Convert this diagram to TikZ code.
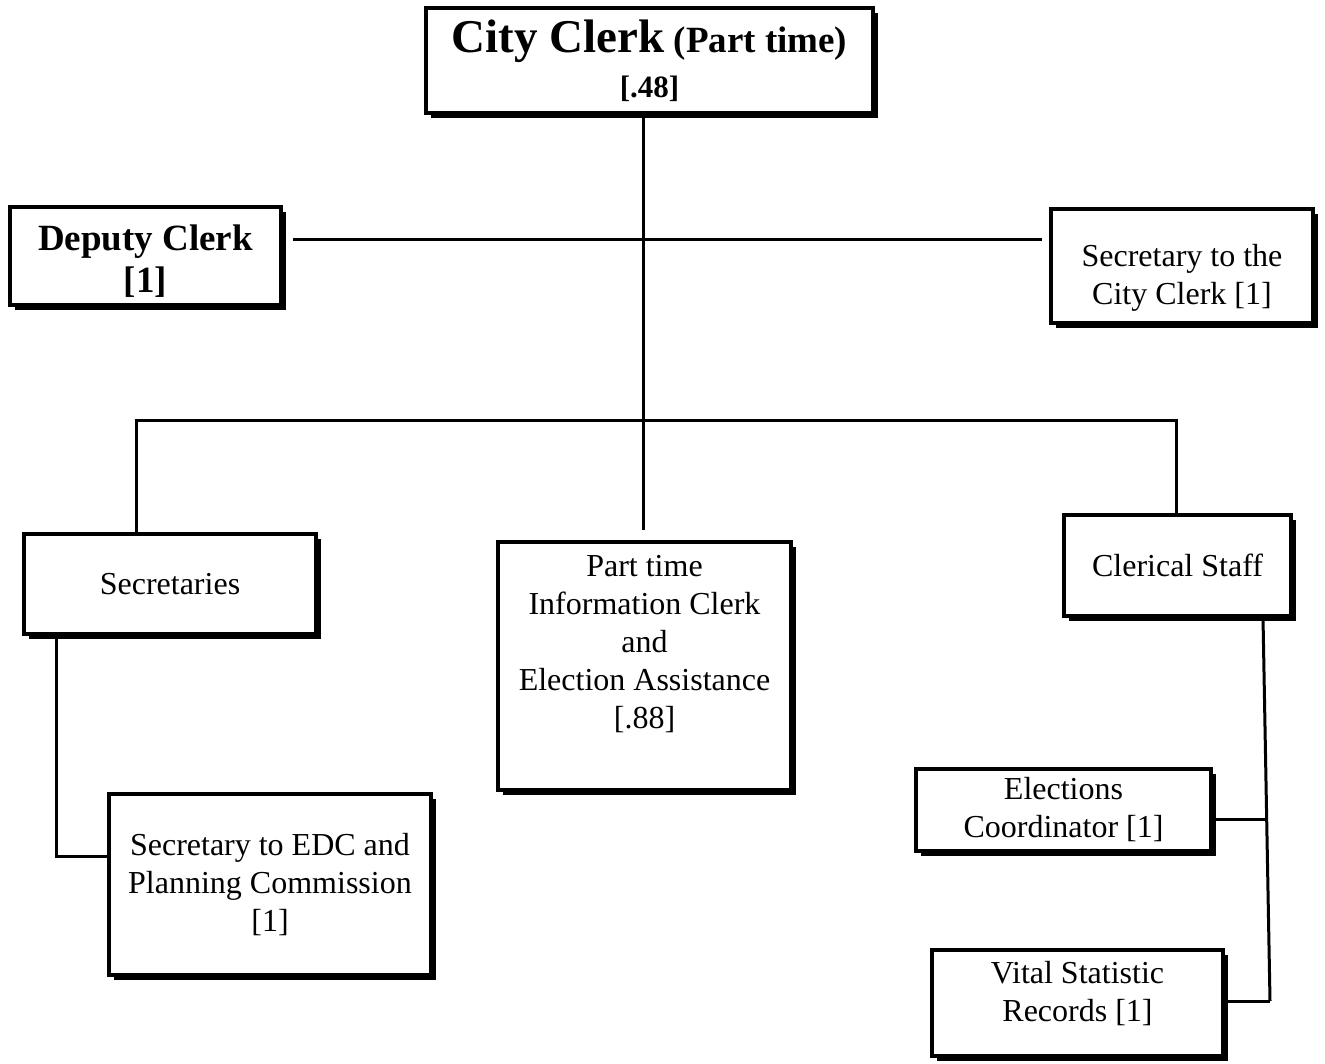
\documentclass[tikz,border=0pt]{standalone}
\usepackage{fontspec}
\setmainfont{Liberation Serif}
\usetikzlibrary{shadows}

\begin{document}
\begin{tikzpicture}[x=1pt, y=-1pt,
    box/.style={draw=black, line width=3.5pt, fill=white, align=center, inner sep=0pt,
        drop shadow={shadow xshift=5pt, shadow yshift=-5pt, fill=black, opacity=1},
        font=\fontsize{32}{38}\selectfont},
    link/.style={line width=3pt}]
            \useasboundingbox (0,0) rectangle (1325,1064);

            \node[box, minimum width=447pt, minimum height=105pt, font=\fontsize{37}{45}\selectfont\bfseries] (clerk) at (649.5,60.5) {{\fontsize{47}{45}\selectfont City Clerk} (Part time)\\{}{\fontsize{31}{45}\selectfont [.48]}};
            \node[box, minimum width=271pt, minimum height=98pt, font=\fontsize{37}{42}\selectfont\bfseries] (deputy) at (145.5,256) {\rule{0pt}{35pt}Deputy Clerk\\{}[1]};
            \node[box, minimum width=262pt, minimum height=114pt] (cityclerksec) at (1182,266) {\rule{0pt}{46pt}Secretary to the\\City Clerk [1]};
            \node[box, minimum width=292pt, minimum height=100pt] (secretaries) at (170,584) {Secretaries};
            \node[box, minimum width=293pt, minimum height=248pt] (infoclerk) at (644.5,666) {Part time\\Information Clerk\\and\\Election Assistance\\{}[.88]\\[10pt]\mbox{}};
            \node[box, minimum width=227pt, minimum height=101pt] (clerical) at (1177.5,565.5) {Clerical Staff};
            \node[box, minimum width=322pt, minimum height=181pt] (edcsec) at (270,884.5) {Secretary to EDC and\\Planning Commission\\{}[1]};
            \node[box, minimum width=295pt, minimum height=82pt] (elections) at (1063.5,810) {Elections\\Coordinator [1]};
            \node[box, minimum width=291pt, minimum height=106pt] (vital) at (1077.5,1003) {Vital Statistic\\Records [1]\\[-14pt]\mbox{}};

            \coordinate (trunkend) at (643,530);
            \coordinate (armL) at (293,240);
            \coordinate (armR) at (1042,240);
            \coordinate (busL) at (136,420);
            \coordinate (busR) at (1176,420);
            \coordinate (secdrop) at (56,856);
            \coordinate (spineT) at (1263,618);
            \coordinate (spineE) at (1267,819);
            \coordinate (spineB) at (1270,1001);

            \draw[link] (clerk.south -| trunkend) -- (trunkend);
            \draw[link] (armL) -- (armR);
            \draw[link] (secretaries.north -| busL) -- (busL) -- (busR) -- (clerical.north -| busR);
            \draw[link] (secretaries.south -| secdrop) -- (secdrop) -- (edcsec.west |- secdrop);
            \draw[link] (clerical.south -| spineT) -- (spineB);
            \draw[link] (elections.east |- spineE) -- (spineE);
            \draw[link] (vital.east |- spineB) -- (spineB);
        \end{tikzpicture}
\end{document}
